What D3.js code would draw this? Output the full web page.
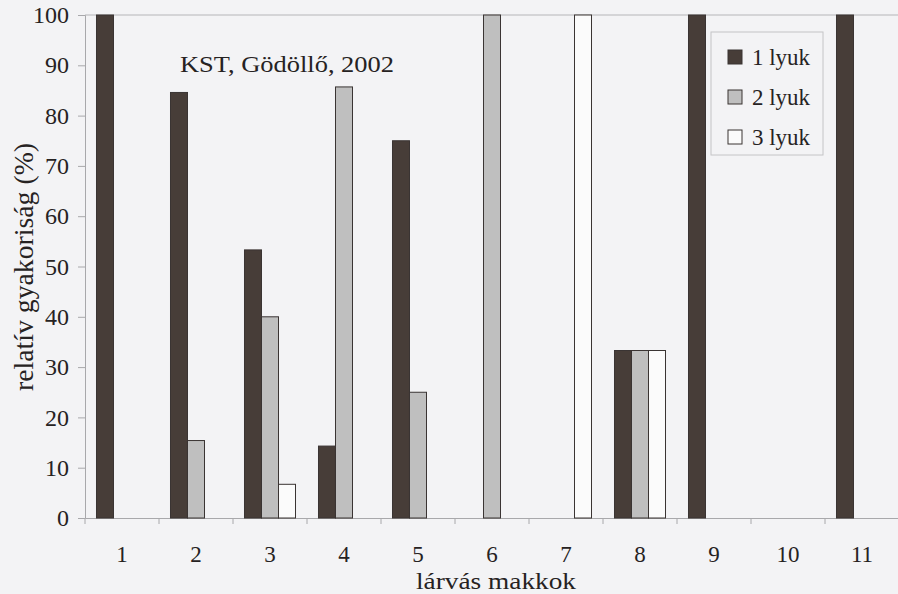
<!DOCTYPE html>
<html><head><meta charset="utf-8">
<script src="https://cdn.jsdelivr.net/npm/d3@7"></script>
<style>
html,body{margin:0;padding:0;background:#f3f3f5;}
svg{display:block;}
text{font-family:"Liberation Serif","Times New Roman",serif;fill:#262222;}
</style></head>
<body>
<svg id="chart" width="898" height="594"></svg>
<script>
const categories = ["1","2","3","4","5","6","7","8","9","10","11"];
const seriesNames = ["1 lyuk","2 lyuk","3 lyuk"];
const s1 = [100, 84.6, 53.3, 14.3, 75, 0, 0, 33.3, 100, 0, 100];
const s2 = [0, 15.4, 40, 85.7, 25, 100, 0, 33.3, 0, 0, 0];
const s3 = [0, 0, 6.7, 0, 0, 0, 100, 33.3, 0, 0, 0];
const yTicks = [0,10,20,30,40,50,60,70,80,90,100];
const colors = ["#473d38", "#bfbfbf", "#fbfbfb"];
const titleText = "KST, Gödöllő, 2002";
const xTitle = "lárvás makkok";
const yTitle = "relatív gyakoriság (%)";

const svg = d3.select("#chart");
const mLeft = 85, mRight = 899, mTop = 15, mBottom = 518;

const x = d3.scaleBand().domain(categories).range([mLeft, mRight]).padding(0);
const xs = d3.scaleBand().domain(seriesNames).range([0, x.bandwidth()]).paddingInner(0).paddingOuter(0.676);
const y = d3.scaleLinear().domain([0, 100]).range([mBottom, mTop]);

// top frame line
svg.append("line").attr("x1", mLeft).attr("x2", mRight).attr("y1", mTop).attr("y2", mTop)
  .attr("stroke", "#b5b5b8").attr("stroke-width", 1);

// axes
const yAxis = d3.axisLeft(y).tickValues(yTicks).tickSize(7).tickPadding(9);
const gy = svg.append("g").attr("transform", `translate(${mLeft},0)`).call(yAxis);
gy.select(".domain").attr("stroke", "#a8a8ab");
gy.selectAll(".tick line").attr("stroke", "#a8a8ab");
gy.selectAll(".tick text").attr("font-size", 24).attr("fill", "#262222");

const xAxis = d3.axisBottom(x).tickSize(0).tickPadding(0);
const gx = svg.append("g").attr("transform", `translate(0,${mBottom})`).call(xAxis);
gx.select(".domain").attr("stroke", "#a8a8ab");
gx.selectAll(".tick text").attr("font-size", 23)
  .attr("fill", "#262222").attr("dy", 0).attr("y", 44);
// boundary ticks between categories
const bounds = categories.map(c => x(c)).concat([mRight]);
svg.append("g").selectAll("line").data(bounds).join("line")
  .attr("x1", d => d).attr("x2", d => d).attr("y1", mBottom).attr("y2", mBottom + 6)
  .attr("stroke", "#a8a8ab");

// bars
const series = [s1, s2, s3];
series.forEach((vals, si) => {
  svg.append("g").selectAll("rect").data(categories.map((c, i) => ({c, v: vals[i]})).filter(d => d.v > 0))
    .join("rect")
    .attr("x", d => x(d.c) + xs(seriesNames[si]))
    .attr("y", d => y(d.v))
    .attr("width", xs.bandwidth())
    .attr("height", d => y(0) - y(d.v))
    .attr("fill", colors[si])
    .attr("stroke", "#3a3433").attr("stroke-width", 1);
});

// title
svg.append("text").attr("x", 180).attr("y", 72).attr("font-size", 24)
  .attr("textLength", 214).attr("lengthAdjust", "spacingAndGlyphs").text(titleText);

// legend
const lg = svg.append("g");
lg.append("rect").attr("x", 711).attr("y", 32).attr("width", 112).attr("height", 123)
  .attr("fill", "none").attr("stroke", "#c4c4c6");
seriesNames.forEach((n, i) => {
  const cy = 57 + i * 40;
  lg.append("rect").attr("x", 728).attr("y", cy - 7).attr("width", 14).attr("height", 14)
    .attr("fill", colors[i]).attr("stroke", "#3a3433");
  lg.append("text").attr("x", 752).attr("y", cy + 8).attr("font-size", 23)
    .attr("textLength", 58).attr("lengthAdjust", "spacingAndGlyphs").text(n);
});

// axis titles
svg.append("text").attr("x", 496).attr("y", 589).attr("text-anchor", "middle")
  .attr("font-size", 24).attr("textLength", 160).attr("lengthAdjust", "spacingAndGlyphs").text(xTitle);
svg.append("text").attr("transform", "translate(33,267) rotate(-90)").attr("text-anchor", "middle")
  .attr("font-size", 28).attr("textLength", 248).attr("lengthAdjust", "spacingAndGlyphs").text(yTitle);
</script>
</body></html>
